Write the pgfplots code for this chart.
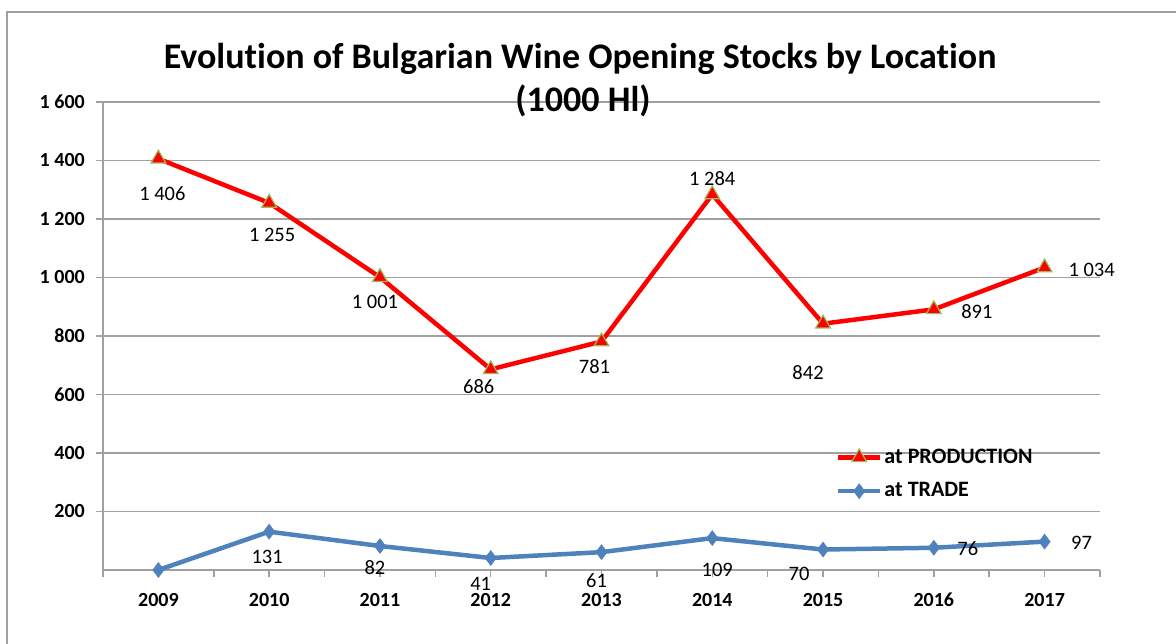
\documentclass[border=0pt]{standalone}
\usepackage{pgfplots}
\pgfplotsset{compat=1.18}
\usepackage{fontspec}
\setmainfont{Carlito}[Ligatures=NoCommon]
\definecolor{prodred}{RGB}{255,0,0}
\definecolor{prodedge}{RGB}{155,187,89}
\definecolor{tradeblue}{RGB}{79,129,189}
\definecolor{gridgray}{RGB}{160,160,160}
\begin{document}
\fontsize{20pt}{24pt}\selectfont
\begin{tikzpicture}
\useasboundingbox (0pt,0pt) rectangle (1176pt,644pt);
\draw[gridgray, line width=1.5pt] (7pt,-10pt) rectangle (1190pt,632pt);
\begin{axis}[
  at={(103pt,74pt)}, anchor=south west,
  scale only axis, width=997pt, height=468pt,
  xmin=-0.5, xmax=8.5, ymin=0, ymax=1600,
  axis x line=bottom, axis y line=left,
  axis line style={-, gridgray, line width=1.5pt},
  xtick={0,1,2,3,4,5,6,7,8},
  xticklabels={2009,2010,2011,2012,2013,2014,2015,2016,2017},
  extra x ticks={-0.5,0.5,1.5,2.5,3.5,4.5,5.5,6.5,7.5,8.5},
  extra x tick labels={},
  ytick={200,400,600,800,1000,1200,1400,1600},
  scaled y ticks=false,
  ymajorgrids, grid style={gridgray, line width=1.5pt},
  tick align=outside, major tick length=7pt,
  tick style={gridgray, line width=1.5pt},
  ticklabel style={font=\bfseries\fontsize{20pt}{24pt}\selectfont},
  yticklabel style={anchor=east, inner sep=0pt, xshift=-11pt},
  xticklabel style={anchor=north, inner sep=0pt, yshift=-16pt},
  /pgf/number format/.cd, 1000 sep={\ }, assume math mode=true, /pgfplots/.cd,
  legend style={draw=none, fill=none, at={(0.735,0.264)}, anchor=north west,
    font=\bfseries\fontsize{22pt}{26pt}\selectfont, row sep=12.5pt, inner sep=0pt,
    /tikz/every even column/.append style={column sep=0pt}},
  legend cell align=left,
  legend image code/.code={\draw[mark repeat=2,mark phase=2,#1] plot coordinates {(0pt,0pt)(21pt,0pt)(42pt,0pt)};},
  clip=false,
]
\addplot[prodred, line width=4.5pt, mark=triangle*, mark size=8.5pt,
  mark options={fill=prodred, draw=prodedge, line width=1.2pt},
  nodes near coords, point meta=explicit symbolic,
  visualization depends on={\thisrow{dx}\as\dx},
  visualization depends on={\thisrow{dy}\as\dy},
  every node near coord/.append style={anchor=center, xshift=\dx pt, yshift=\dy pt, text=black, font=\mdseries\fontsize{20.5pt}{24pt}\selectfont},
] table[x=x, y=y, meta=lab, col sep=comma] {
x,y,dx,dy,lab
0,1406,4,-35,1 406
1,1255,3,-32,1 255
2,1001,-5,-25,1 001
3,686,-12,-17,686
4,781,-7,-25,781
5,1284,0,16,1 284
6,842,-15,-49,842
7,891,43,-2,891
8,1034,47,-2,1 034
};
\addlegendentry{at PRODUCTION}
\addplot[tradeblue, line width=4.5pt, mark=diamond*, mark size=7.5pt,
  mark options={fill=tradeblue, draw=tradeblue, line width=0.5pt},
  nodes near coords, point meta=explicit symbolic,
  visualization depends on={\thisrow{dx}\as\dx},
  visualization depends on={\thisrow{dy}\as\dy},
  every node near coord/.append style={anchor=center, xshift=\dx pt, yshift=\dy pt, text=black, font=\mdseries\fontsize{20.5pt}{24pt}\selectfont},
] table[x=x, y=y, meta=lab, col sep=comma] {
x,y,dx,dy,lab
0,0,0,0,\phantom{0}
1,131,-2,-25,131
2,82,-5,-22,82
3,41,-10,-26,41
4,61,-5,-29,61
5,109,5,-32,109
6,70,-24,-24,70
7,76,34,-1,76
8,97,37,-1,97
};
\addlegendentry{at TRADE}
\end{axis}
\node[font=\bfseries\fontsize{36pt}{40pt}\selectfont, anchor=base] at (580pt,575pt) {Evolution of Bulgarian Wine Opening Stocks by Location};
\node[font=\bfseries\fontsize{36pt}{40pt}\selectfont, anchor=base] at (583pt,532pt) {(1000 Hl)};
\end{tikzpicture}
\end{document}
